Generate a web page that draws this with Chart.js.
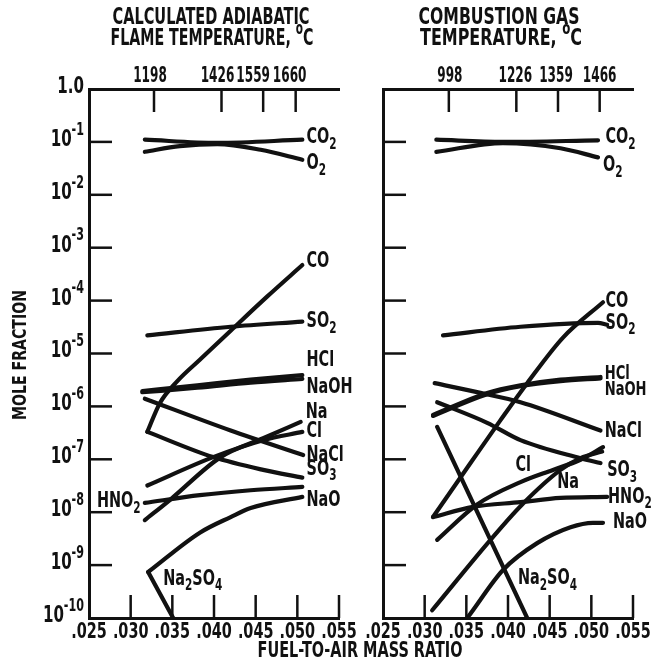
<!DOCTYPE html>
<html>
<head>
<meta charset="utf-8">
<script src="https://cdn.jsdelivr.net/npm/chart.js@4.4.1/dist/chart.umd.min.js"></script>
<style>
html, body { margin: 0; padding: 0; background: #fff; }
#wrap { position: relative; width: 654px; height: 669px; }
canvas { position: absolute; left: 0; top: 0; }
</style>
</head>
<body>
<div id="wrap">
  <canvas id="flame" width="654" height="669"></canvas>
  <canvas id="gas" width="654" height="669"></canvas>
</div>
<script>
// species, same order in both panels
const species = ['CO2', 'O2', 'CO', 'SO2', 'HCl', 'NaOH', 'NaCl', 'SO3', 'Na', 'Cl', 'HNO2', 'NaO', 'Na2SO4'];

// left panel: calculated adiabatic flame temperature
const flameX = [
    [0.0317, 0.0404, 0.0506],
    [0.0317, 0.0359, 0.0404, 0.0456, 0.0506],
    [0.0320, 0.0335, 0.0356, 0.0383, 0.0420, 0.0464, 0.0506],
    [0.0320, 0.0420, 0.0506],
    [0.0314, 0.0380, 0.0444, 0.0506],
    [0.0314, 0.0380, 0.0444, 0.0506],
    [0.0317, 0.0420, 0.0507],
    [0.0320, 0.0399, 0.0459, 0.0506],
    [0.0317, 0.0347, 0.0408, 0.0459, 0.0504],
    [0.0320, 0.0399, 0.0459, 0.0506],
    [0.0317, 0.0383, 0.0444, 0.0506],
    [0.0321, 0.0383, 0.0420, 0.0444, 0.0506],
    [0.0321, 0.0351, 0.0357]
];
const flameY = [
    [0.11, 0.096, 0.11],
    [0.065, 0.083, 0.091, 0.071, 0.046],
    [3.3e-7, 1.15e-6, 3.0e-6, 7.6e-6, 2.7e-5, 1.2e-4, 4.7e-4],
    [2.2e-5, 3.2e-5, 4.0e-5],
    [1.95e-6, 2.5e-6, 3.2e-6, 3.9e-6],
    [1.85e-6, 2.25e-6, 2.8e-6, 3.3e-6],
    [1.4e-6, 3.5e-7, 1.2e-7],
    [3.3e-7, 1.1e-7, 6.3e-8, 4.5e-8],
    [7.1e-9, 1.7e-8, 1.1e-7, 2.5e-7, 5.1e-7],
    [3.2e-8, 1.1e-7, 2.3e-7, 3.3e-7],
    [1.5e-8, 2.1e-8, 2.6e-8, 3.0e-8],
    [7.4e-10, 4.1e-9, 8.1e-9, 1.2e-8, 1.95e-8],
    [7.4e-10, 1.0e-10, 7e-11]
];

// right panel: combustion gas temperature
const gasX = [
    [0.0314, 0.0394, 0.0508],
    [0.0314, 0.0394, 0.0463, 0.0508],
    [0.0310, 0.0355, 0.0391, 0.0423, 0.0466, 0.0514],
    [0.0322, 0.0415, 0.0508, 0.0519],
    [0.0310, 0.0375, 0.0415, 0.0463, 0.0511],
    [0.0310, 0.0375, 0.0415, 0.0463, 0.0511],
    [0.0312, 0.0367, 0.0415, 0.0511],
    [0.0315, 0.0375, 0.0415, 0.0487, 0.0511],
    [0.0309, 0.0379, 0.0415, 0.0463, 0.0487, 0.0513],
    [0.0315, 0.0363, 0.0415, 0.0454, 0.0487, 0.0514],
    [0.0310, 0.0358, 0.0415, 0.0463, 0.0519],
    [0.0346, 0.0351, 0.0394, 0.0435, 0.0475, 0.0502, 0.0514],
    [0.0315, 0.0423, 0.0427]
];
const gasY = [
    [0.11, 0.10, 0.107],
    [0.065, 0.095, 0.076, 0.051],
    [8.1e-9, 8.5e-8, 5.5e-7, 2.75e-6, 2.0e-5, 9.3e-5],
    [2.2e-5, 3.2e-5, 3.8e-5, 3.5e-5],
    [6.9e-7, 1.8e-6, 2.5e-6, 3.2e-6, 3.6e-6],
    [6.6e-7, 1.7e-6, 2.4e-6, 3.0e-6, 3.4e-6],
    [2.75e-6, 1.8e-6, 1.2e-6, 3.5e-7],
    [1.2e-6, 4.9e-7, 2.3e-7, 1.05e-7, 8.5e-8],
    [1.4e-10, 3.0e-9, 1.3e-8, 6.3e-8, 1.05e-7, 1.4e-7],
    [3.0e-9, 1.4e-8, 3.7e-8, 6.3e-8, 9.8e-8, 1.7e-7],
    [8.1e-9, 1.26e-8, 1.55e-8, 1.86e-8, 1.95e-8],
    [8e-11, 1.0e-10, 8.1e-10, 2.6e-9, 5.2e-9, 6.3e-9, 6.3e-9],
    [4.1e-7, 1.0e-10, 7e-11]
];

// axes
const xTicks = [0.025, 0.030, 0.035, 0.040, 0.045, 0.050, 0.055];
const xTickLabels = ['.025', '.030', '.035', '.040', '.045', '.050', '.055'];
const yExponents = [0, -1, -2, -3, -4, -5, -6, -7, -8, -9, -10];
const flameTempX = [0.0328, 0.0409, 0.0459, 0.0498];
const flameTemps = ['1198', '1426', '1559', '1660'];
const gasTempX = [0.0329, 0.0410, 0.0460, 0.0510];
const gasTemps = ['998', '1226', '1359', '1466'];

// curve labels (anchor in data units)
const flameLabels = [
    { t: 'CO_2', x: 0.0511, y: 0.124 },
    { t: 'O_2', x: 0.0511, y: 0.040 },
    { t: 'CO', x: 0.0511, y: 5.6e-4 },
    { t: 'SO_2', x: 0.0511, y: 4.1e-5 },
    { t: 'HCl', x: 0.0511, y: 7.6e-6 },
    { t: 'NaOH', x: 0.0511, y: 2.3e-6 },
    { t: 'Na', x: 0.0510, y: 7.8e-7 },
    { t: 'Cl', x: 0.0511, y: 3.4e-7 },
    { t: 'NaCl', x: 0.0511, y: 1.2e-7 },
    { t: 'SO_3', x: 0.0511, y: 6.6e-8 },
    { t: 'NaO', x: 0.0511, y: 1.7e-8 },
    { t: 'HNO_2', x: 0.0312, y: 1.6e-8, align: 'right' },
    { t: 'Na_2SO_4', x: 0.0339, y: 5.5e-10 }
];
const gasLabels = [
    { t: 'CO_2', x: 0.0517, y: 0.124 },
    { t: 'O_2', x: 0.0514, y: 0.0366 },
    { t: 'CO', x: 0.0517, y: 9.8e-5 },
    { t: 'SO_2', x: 0.0517, y: 3.8e-5 },
    { t: 'HCl', x: 0.0516, y: 4.1e-6, size: 20 },
    { t: 'NaOH', x: 0.0516, y: 2.1e-6, size: 20 },
    { t: 'NaCl', x: 0.0516, y: 3.4e-7 },
    { t: 'SO_3', x: 0.0519, y: 6.3e-8 },
    { t: 'HNO_2', x: 0.0520, y: 1.95e-8 },
    { t: 'NaO', x: 0.0526, y: 6.5e-9 },
    { t: 'Cl', x: 0.0409, y: 7.8e-8 },
    { t: 'Na', x: 0.0459, y: 3.7e-8 },
    { t: 'Na_2SO_4', x: 0.0412, y: 5.7e-10 }
];

const INK = '#111';
const FAMILY = '"Liberation Sans Narrow", "Arial Narrow", "DejaVu Sans Condensed", "Liberation Sans", sans-serif';
const TICK = 23;
let squeeze = 1;

function setFont(ctx, size) {
    ctx.font = 'bold ' + size + 'px ' + FAMILY;
}

function calibrate(ctx) {
    setFont(ctx, 100);
    const w = ctx.measureText('0123456789').width;
    squeeze = Math.min(1, 456 / w);
}

// '_x' = subscript char, '^{..}' or '^x' = superscript
function parseRich(s) {
    const out = [];
    let buf = '', i = 0;
    while (i < s.length) {
        const c = s[i];
        if (c === '_' || c === '^') {
            if (buf) { out.push({ t: buf, m: 'n' }); buf = ''; }
            let t;
            if (s[i + 1] === '{') {
                const j = s.indexOf('}', i);
                t = s.slice(i + 2, j);
                i = j + 1;
            } else {
                t = s[i + 1];
                i += 2;
            }
            out.push({ t, m: c === '_' ? 'sub' : 'sup' });
        } else {
            buf += c;
            i++;
        }
    }
    if (buf) out.push({ t: buf, m: 'n' });
    return out;
}

function drawRich(ctx, s, x, y, size, align, fit) {
    const segs = parseRich(s);
    const sz = m => m === 'n' ? size : Math.round(size * 0.72);
    const dy = m => m === 'sub' ? size * 0.34 : m === 'sup' ? -size * 0.42 : 0;
    let w = 0;
    segs.forEach(g => {
        setFont(ctx, sz(g.m));
        g.w = ctx.measureText(g.t).width * squeeze;
        w += g.w;
    });
    const k = fit ? fit / w : 1;
    w *= k;
    let cx = align === 'right' ? x - w : align === 'center' ? x - w / 2 : x;
    ctx.textAlign = 'left';
    ctx.textBaseline = 'middle';
    segs.forEach(g => {
        setFont(ctx, sz(g.m));
        ctx.save();
        ctx.translate(cx, y + dy(g.m));
        ctx.scale(squeeze * k, 1);
        ctx.fillText(g.t, 0, 0);
        ctx.restore();
        cx += g.w * k;
    });
}

function seg(ctx, x1, y1, x2, y2) {
    ctx.beginPath();
    ctx.moveTo(x1, y1);
    ctx.lineTo(x2, y2);
    ctx.stroke();
}

function decor(cfg) {
    return {
        id: 'decor',
        afterDraw(chart) {
            const { ctx, chartArea: a } = chart;
            const x = chart.scales.x, y = chart.scales.y;
            ctx.save();
            calibrate(ctx);
            ctx.strokeStyle = INK;
            ctx.fillStyle = INK;
            ctx.lineWidth = 2.5;

            // inward ticks
            yExponents.forEach(n => {
                if (n === 0 || n === -10) return;
                const py = y.getPixelForValue(Math.pow(10, n));
                seg(ctx, a.left, py, a.left + TICK, py);
            });
            xTicks.forEach((v, i) => {
                if (i === 0) return;
                const px = x.getPixelForValue(v);
                seg(ctx, px, a.bottom, px, a.bottom - TICK);
            });
            cfg.tempX.forEach(v => {
                const px = x.getPixelForValue(v);
                seg(ctx, px, a.top, px, a.top + TICK);
            });

            // tick labels
            xTicks.forEach((v, i) => {
                drawRich(ctx, xTickLabels[i], x.getPixelForValue(v), a.bottom + 14, 22, 'center');
            });
            cfg.tempX.forEach((v, i) => {
                const label = cfg.temps[i];
                drawRich(ctx, label, x.getPixelForValue(v) + cfg.tempShift[i], a.top - 13, 22, 'center', label.length * 8.4);
            });
            if (cfg.yLabels) {
                yExponents.forEach(n => {
                    const py = y.getPixelForValue(Math.pow(10, n)) - 2;
                    drawRich(ctx, n === 0 ? '1.0' : '10^{' + n + '}', a.left - 5, py, 23, 'right');
                });
            }

            // curve labels
            cfg.labels.forEach(l => {
                drawRich(ctx, l.t, x.getPixelForValue(l.x), y.getPixelForValue(l.y), l.size || 22, l.align || 'left');
            });

            // panel titles
            const t = cfg.title;
            drawRich(ctx, t.lines[0], t.cx[0], 18, 23, 'center', t.w[0]);
            drawRich(ctx, t.lines[1], t.cx[1], 39, 23, 'center', t.w[1]);

            if (cfg.yLabels) {
                drawRich(ctx, 'FUEL-TO-AIR MASS RATIO', 360, 652, 21, 'center', 205);
                ctx.save();
                ctx.translate(21, 355);
                ctx.rotate(-Math.PI / 2);
                drawRich(ctx, 'MOLE FRACTION', 0, 0, 20, 'center', 130);
                ctx.restore();
            }
            ctx.restore();
        }
    };
}

function makePanel(id, xs, ys, padLeft, padRight, cfg) {
    const axisBorder = { display: true, width: 3, color: INK };
    const flat = s => { s.height = 0; };
    return new Chart(document.getElementById(id), {
        type: 'line',
        data: {
            datasets: species.map((name, i) => ({
                label: name,
                data: xs[i].map((v, j) => ({ x: v, y: ys[i][j] })),
                borderColor: INK,
                borderWidth: 4.2,
                pointRadius: 0,
                fill: false,
                cubicInterpolationMode: name === 'Na2SO4' ? 'default' : 'monotone',
                tension: name === 'Na2SO4' ? 0 : 0.4,
                borderCapStyle: 'round',
                borderJoinStyle: 'round',
                clip: { left: 6, right: 6, top: 6, bottom: 0 }
            }))
        },
        options: {
            responsive: false,
            animation: false,
            events: [],
            layout: { padding: { left: padLeft, right: padRight, top: 89, bottom: 51 } },
            plugins: { legend: { display: false }, tooltip: { enabled: false } },
            scales: {
                x: {
                    type: 'linear', position: 'bottom', min: 0.025, max: 0.055,
                    grid: { display: false }, border: axisBorder,
                    ticks: { display: false }, afterFit: flat
                },
                x2: {
                    type: 'linear', position: 'top', min: 0.025, max: 0.055,
                    grid: { display: false }, border: axisBorder,
                    ticks: { display: false }, afterFit: flat
                },
                y: {
                    type: 'logarithmic', position: 'left', min: 1e-10, max: 1,
                    grid: { display: false }, border: axisBorder,
                    ticks: { display: false }, afterFit: s => { s.width = 0; }
                }
            }
        },
        plugins: [decor(cfg)]
    });
}

makePanel('flame', flameX, flameY, 89, 654 - 339, {
    tempX: flameTempX, temps: flameTemps, tempShift: [-4, -4, -10, -6],
    labels: flameLabels, yLabels: true,
    title: { lines: ['CALCULATED ADIABATIC', 'FLAME TEMPERATURE, ^oC'], cx: [211, 212], w: [197, 203] }
});
makePanel('gas', gasX, gasY, 383, 654 - 633, {
    tempX: gasTempX, temps: gasTemps, tempShift: [1, -1, -2, 0],
    labels: gasLabels, yLabels: false,
    title: { lines: ['COMBUSTION GAS', 'TEMPERATURE, ^oC'], cx: [499, 501], w: [161, 162] }
});
</script>
</body>
</html>
